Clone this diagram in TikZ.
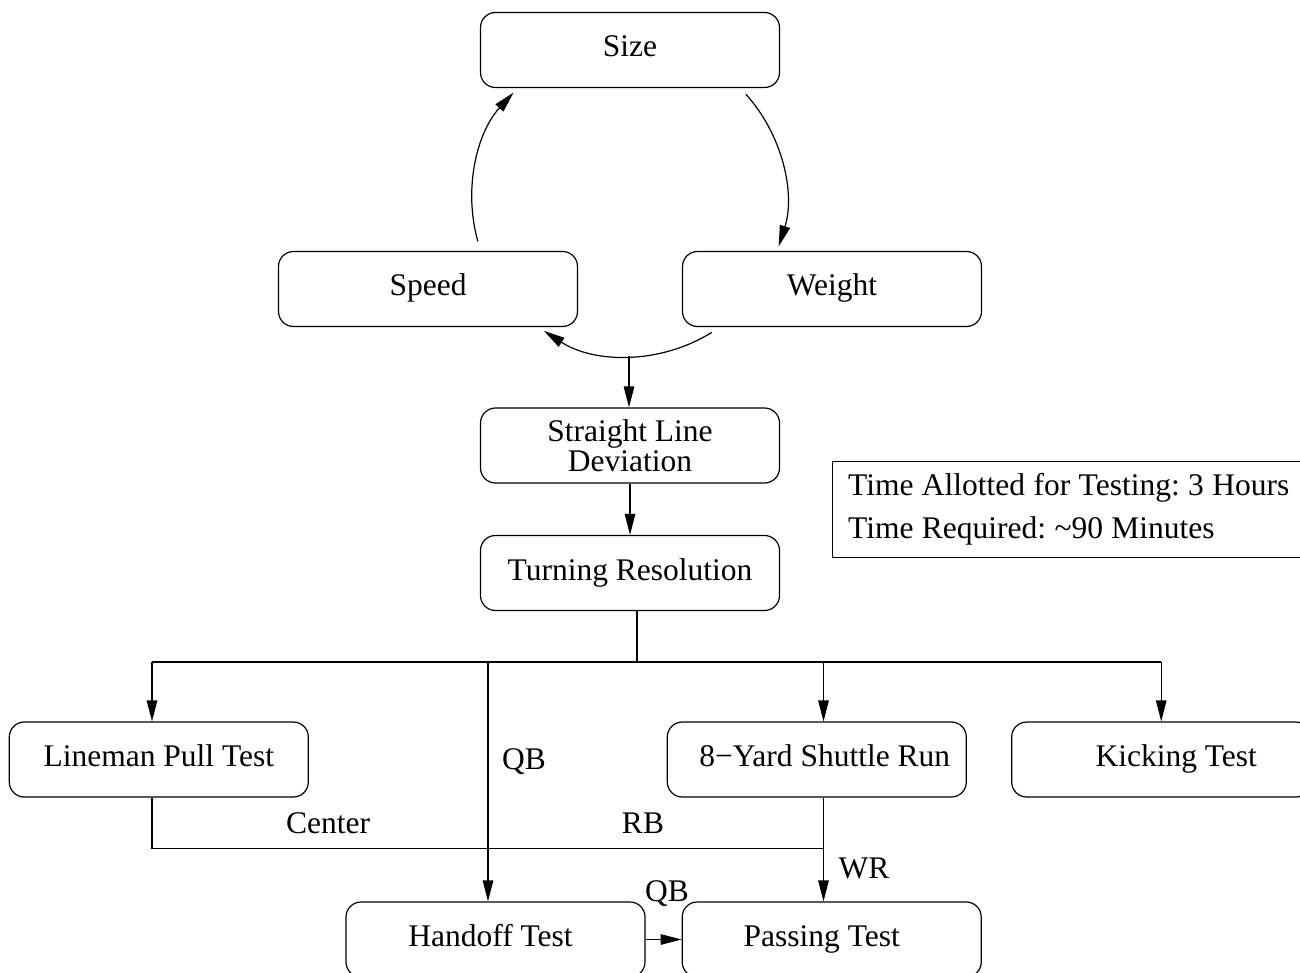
\documentclass[tikz,border=0pt]{standalone}
\usepackage{fontspec}
\setmainfont{Liberation Serif}
\usetikzlibrary{arrows.meta}
\frenchspacing
\begin{document}
\begin{tikzpicture}[x=1pt,y=-1pt,line width=1.2pt,
  font=\fontsize{31.5}{36}\selectfont,
  boxbase/.style={draw, rounded corners=15pt, minimum width=299pt, minimum height=75pt, inner sep=0pt, align=center},
  box/.style={boxbase, text height=22pt, text depth=8pt},
  arr/.style={-{Triangle[length=21pt,width=10.5pt]}},
  lbl/.style={inner sep=0pt, anchor=base}]
\useasboundingbox (0,0) rectangle (1300,973);
\clip (0,0) rectangle (1300,973);

% boxes
\node[box] (size) at (630,50) {Size};
\node[box] (speed) at (428,289) {Speed};
\node[box] (weight) at (832,289) {Weight};
\node[boxbase, font=\fontsize{31.5}{30}\selectfont] (sld) at (630,445.5) {Straight Line\\Deviation};
\node[box] (tr) at (630,573) {Turning Resolution};
\node[box] (lpt) at (158.8,759.5) {Lineman Pull Test};
\node[box] (shr) at (816.8,759.5) {\hspace*{16pt}8−Yard Shuttle Run};
\node[box] (kick) at (1161.2,759.5) {\hspace*{30pt}Kicking Test};
\node[box] (hand) at (495.5,939.5) {Handoff Test\hspace*{10pt}};
\node[box] (pass) at (831.7,939.5) {Passing Test\hspace*{20pt}};

\node[draw, anchor=north west, minimum height=96pt, text width=480pt, inner xsep=16pt,
  align=left, font=\fontsize{31.5}{43}\selectfont] (time) at (831.5,461)
  {\spaceskip=8.4pt\relax Time Allotted for Testing: 3 Hours\\Time Required: \textasciitilde 90 Minutes};

% circular arcs
\coordinate (cc) at (629,199);
\path (cc) ++(164.3:157) coordinate (a1s);
\path (cc) ++(-41.9:157) coordinate (a2s);
\path (cc) ++(58.2:157) coordinate (a3s);
\path (cc) ++(90:157) coordinate (ab);
\draw[arr] (a1s) arc[start angle=164.3, end angle=222.7, radius=157];
\draw[arr] (a2s) arc[start angle=-41.9, end angle=17.6, radius=157];
\draw[arr] (a3s) arc[start angle=58.2, end angle=122.8, radius=157];
\draw[arr] (ab) -- (ab |- sld.north);

\draw[arr] (sld) -- (tr);

% tree
\coordinate (j) at (637,662);
\coordinate (jl) at (152,662);
\coordinate (jq) at (488,662);
\coordinate (js) at (823.5,662);
\coordinate (jk) at (1161.2,662);
\draw (tr.south -| j) -- (j);
\draw (jl) -- (jk);
\draw[arr] (jl) -- (jl |- lpt.north);
\draw[arr] (jq) -- (jq |- hand.north);
\draw[arr] (js) -- (js |- shr.north);
\draw[arr] (jk) -- (kick.north);

\coordinate (bl) at (152,848.3);
\coordinate (br) at (823.5,848.3);
\draw (lpt.south -| bl) -- (bl) -- (br);
\draw[arr] (shr.south -| br) -- (br |- pass.north);
\draw[arr] (hand) -- (pass);

% labels
\node[lbl] (lqb1) at (524,769) {QB};
\node[lbl] (lcenter) at (328,833) {Center};
\node[lbl] (lrb) at (643,833) {RB};
\node[lbl] (lwr) at (864,878) {WR};
\node[lbl] (lqb2) at (667,901) {QB};
\end{tikzpicture}
\end{document}
